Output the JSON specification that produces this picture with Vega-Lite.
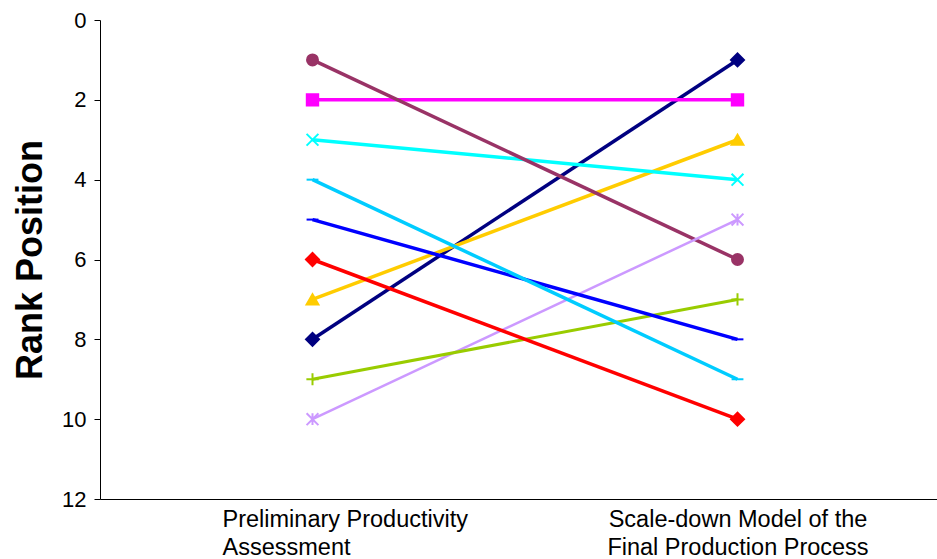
{
  "$schema": "https://vega.github.io/schema/vega-lite/v6.json",
  "width": 850,
  "height": 479,
  "autosize": "none",
  "padding": {"left": 100, "top": 20, "right": 0, "bottom": 60},
  "background": "white",
  "config": {"view": {"stroke": null}},
  "data": {
    "values": [
      {"series": "A", "stage": "Preliminary Productivity Assessment", "rank": 8},
      {"series": "A", "stage": "Scale-down Model of the Final Production Process", "rank": 1},
      {"series": "B", "stage": "Preliminary Productivity Assessment", "rank": 2},
      {"series": "B", "stage": "Scale-down Model of the Final Production Process", "rank": 2},
      {"series": "C", "stage": "Preliminary Productivity Assessment", "rank": 7},
      {"series": "C", "stage": "Scale-down Model of the Final Production Process", "rank": 3},
      {"series": "D", "stage": "Preliminary Productivity Assessment", "rank": 3},
      {"series": "D", "stage": "Scale-down Model of the Final Production Process", "rank": 4},
      {"series": "E", "stage": "Preliminary Productivity Assessment", "rank": 1},
      {"series": "E", "stage": "Scale-down Model of the Final Production Process", "rank": 6},
      {"series": "F", "stage": "Preliminary Productivity Assessment", "rank": 10},
      {"series": "F", "stage": "Scale-down Model of the Final Production Process", "rank": 5},
      {"series": "G", "stage": "Preliminary Productivity Assessment", "rank": 9},
      {"series": "G", "stage": "Scale-down Model of the Final Production Process", "rank": 7},
      {"series": "H", "stage": "Preliminary Productivity Assessment", "rank": 5},
      {"series": "H", "stage": "Scale-down Model of the Final Production Process", "rank": 8},
      {"series": "I", "stage": "Preliminary Productivity Assessment", "rank": 4},
      {"series": "I", "stage": "Scale-down Model of the Final Production Process", "rank": 9},
      {"series": "J", "stage": "Preliminary Productivity Assessment", "rank": 6},
      {"series": "J", "stage": "Scale-down Model of the Final Production Process", "rank": 10}
    ]
  },
  "encoding": {
    "x": {
      "field": "stage",
      "type": "nominal",
      "sort": null,
      "scale": {"type": "point", "padding": 0.5},
      "axis": {
        "title": null,
        "labelAngle": 0,
        "ticks": false,
        "domainColor": "#000000",
        "domainWidth": 1,
        "labelColor": "#000000",
        "labelFont": "Liberation Sans",
        "labelFontSize": 23.5,
        "labelLineHeight": 28,
        "labelPadding": 8,
        "labelBaseline": "top",
        "labelLimit": 400,
        "labelExpr": "datum.value == 'Preliminary Productivity Assessment' ? ['Preliminary Productivity', 'Assessment'] : ['Scale-down Model of the', 'Final Production Process']",
        "labelAlign": {"condition": {"test": "datum.value == 'Preliminary Productivity Assessment'", "value": "left"}, "value": "center"},
        "labelOffset": {"condition": {"test": "datum.value == 'Preliminary Productivity Assessment'", "value": -90.5}, "value": 0}
      }
    },
    "y": {
      "field": "rank",
      "type": "quantitative",
      "scale": {"domain": [0, 12], "reverse": true, "nice": false, "zero": false},
      "axis": {
        "title": "Rank Position",
        "values": [0, 2, 4, 6, 8, 10, 12],
        "grid": false,
        "domainColor": "#000000",
        "tickColor": "#000000",
        "tickSize": 6,
        "labelColor": "#000000",
        "labelFont": "Liberation Sans",
        "labelFontSize": 22,
        "labelPadding": 8,
        "titleFont": "Liberation Sans",
        "titleFontSize": 36,
        "titleFontWeight": "bold",
        "titleColor": "#000000",
        "titleAngle": 270,
        "titleX": -70,
        "titleBaseline": "middle",
        "titleAlign": "center"
      }
    }
  },
  "layer": [
    {
      "mark": {"type": "line", "strokeCap": "butt"},
      "encoding": {
        "detail": {"field": "series"},
        "color": {
          "field": "series",
          "type": "nominal",
          "legend": null,
          "scale": {
            "domain": ["A", "B", "C", "D", "E", "F", "G", "H", "I", "J"],
            "range": ["#000080", "#FF00FF", "#FFCC00", "#00FFFF", "#993366", "#CC99FF", "#99CC00", "#0000FF", "#00CCFF", "#FF0000"]
          }
        },
        "strokeWidth": {
          "field": "series",
          "type": "nominal",
          "legend": null,
          "scale": {
            "type": "ordinal",
            "domain": ["A", "B", "C", "D", "E", "F", "G", "H", "I", "J"],
            "range": [3.5, 3.5, 3.5, 3.5, 3.5, 2.5, 3, 3.5, 3.5, 3.5]
          }
        }
      }
    },
    {
      "mark": {"type": "point", "filled": true, "opacity": 1, "strokeWidth": 2},
      "encoding": {
        "fill": {
          "field": "series",
          "type": "nominal",
          "legend": null,
          "scale": {
            "domain": ["A", "B", "C", "D", "E", "F", "G", "H", "I", "J"],
            "range": ["#000080", "#FF00FF", "#FFCC00", "#00FFFF", "#993366", "#CC99FF", "#99CC00", "#0000FF", "#00CCFF", "#FF0000"]
          }
        },
        "stroke": {
          "field": "series",
          "type": "nominal",
          "legend": null,
          "scale": {
            "domain": ["A", "B", "C", "D", "E", "F", "G", "H", "I", "J"],
            "range": ["#000080", "#FF00FF", "#FFCC00", "#00FFFF", "#993366", "#CC99FF", "#99CC00", "#0000FF", "#00CCFF", "#FF0000"]
          }
        },
        "shape": {
          "field": "series",
          "type": "nominal",
          "legend": null,
          "scale": {
            "domain": ["A", "B", "C", "D", "E", "F", "G", "H", "I", "J"],
            "range": ["diamond", "square", "triangle-up", "M-1,-1L1,1M-1,1L1,-1", "circle", "M-1,-1L1,1M-1,1L1,-1M0,-1L0,1", "M-1,0L1,0M0,-1L0,1", "M-1,0L1,0", "M-1,0L1,0", "diamond"]
          }
        },
        "size": {
          "field": "series",
          "type": "nominal",
          "legend": null,
          "scale": {
            "type": "ordinal",
            "domain": ["A", "B", "C", "D", "E", "F", "G", "H", "I", "J"],
            "range": [170, 130, 140, 140, 120, 140, 150, 140, 140, 170]
          }
        }
      }
    }
  ]
}
